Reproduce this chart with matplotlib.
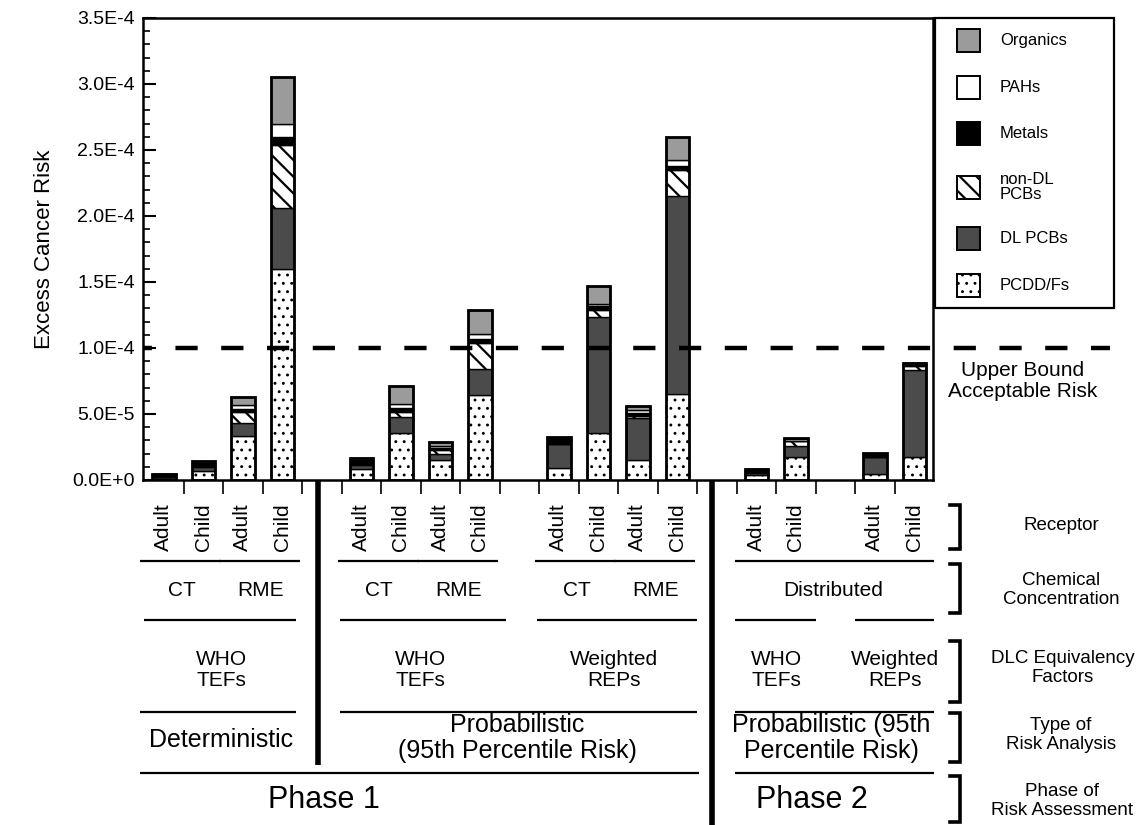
import numpy as np
import matplotlib
matplotlib.use('Agg')
import matplotlib.pyplot as plt
from matplotlib.patches import Rectangle
from matplotlib.lines import Line2D
import matplotlib.ticker as mticker

plt.rcParams['font.family'] = ['Liberation Sans', 'DejaVu Sans']
plt.rcParams['hatch.linewidth'] = 1.4
plt.rcParams['hatch.color'] = 'black'

# ---------------- data (units of 1E-5 excess cancer risk) ----------------
receptors = ['Adult', 'Child'] * 8
concentration = ['CT', 'RME', 'CT', 'RME', 'CT', 'RME']
unit = 1e-5
pcdd = [0.10, 0.70, 3.35, 16.0, 0.85, 3.54, 1.50, 6.45, 0.89, 3.54, 1.52, 6.52, 0.40, 1.77, 0.43, 1.77]
dl_pcb = [0.10, 0.25, 0.95, 4.60, 0.30, 1.26, 0.45, 1.97, 1.80, 8.79, 3.16, 15.0, 0.15, 0.81, 1.33, 6.57]
nondl_pcb = [0.02, 0.10, 0.85, 4.80, 0.10, 0.38, 0.30, 1.99, 0.05, 0.55, 0.18, 1.97, 0.05, 0.35, 0.02, 0.30]
metals = [0.20, 0.20, 0.25, 0.60, 0.20, 0.30, 0.20, 0.26, 0.35, 0.27, 0.25, 0.30, 0.20, 0.05, 0.20, 0.05]
pahs = [0.01, 0.05, 0.25, 0.95, 0.05, 0.25, 0.15, 0.38, 0.10, 0.18, 0.20, 0.45, 0.02, 0.13, 0.02, 0.15]
organics = [0.02, 0.15, 0.65, 3.55, 0.15, 1.40, 0.30, 1.84, 0.10, 1.39, 0.33, 1.77, 0.02, 0.05, 0.05, 0.05]
acceptable_risk = 1e-4
y_ticks = [0, 0.5e-4, 1.0e-4, 1.5e-4, 2.0e-4, 2.5e-4, 3.0e-4, 3.5e-4]

# ---------------- figure ----------------
W, H = 1143, 825
fig = plt.figure(figsize=(W / 100, H / 100), dpi=100)
ax = fig.add_axes([143 / W, 1 - 480 / H, 790 / W, 462 / H])

# bar slots: blocks of bars separated by one empty slot
block_sizes = [4, 4, 4, 2, 2]
x = []
pos = 0
for n in block_sizes:
    for _ in range(n):
        x.append(pos)
        pos += 1
    pos += 1
x = np.array(x, dtype=float)
bw = 0.6

series = [
    ('PCDD/Fs', pcdd, 'white', '..', 0.9),
    ('DL PCBs', dl_pcb, '#4b4b4b', None, 1.4),
    ('non-DL\nPCBs', nondl_pcb, 'white', '\\\\', 1.6),
    ('Metals', metals, 'black', None, 1.4),
    ('PAHs', pahs, 'white', None, 1.4),
    ('Organics', organics, '#9b9b9b', None, 1.4),
]
bottom = np.zeros(len(x))
for name, vals, col, hatch, hlw in series:
    v = np.array(vals) * unit
    with plt.rc_context({'hatch.linewidth': hlw}):
        ax.bar(x, v, width=bw, bottom=bottom, color=col, edgecolor='black',
               linewidth=1.0, hatch=hatch, zorder=2)
    bottom += v
ax.bar(x, bottom, width=bw, fill=False, edgecolor='black', linewidth=2.0, zorder=3)

ax.set_xlim(-0.53, 19.47)
ax.set_ylim(0, 3.5e-4)


def sci(v, pos=None):
    if v == 0:
        return '0.0E+0'
    e = int(np.floor(np.log10(abs(v)) + 1e-9))
    m = v / 10 ** e
    return f'{m:.1f}E{e:+d}'


ax.set_yticks(y_ticks)
ax.yaxis.set_major_formatter(mticker.FuncFormatter(sci))
ax.yaxis.set_minor_locator(mticker.MultipleLocator(1e-5))
ax.tick_params(axis='y', which='major', direction='in', length=9, width=1.5, labelsize=14, pad=6)
ax.tick_params(axis='y', which='minor', direction='in', length=5, width=1.2)
ax.set_xticks(np.arange(0.5, 19, 1.0))
ax.set_xticklabels([])
ax.tick_params(axis='x', which='major', direction='out', length=10, width=1.2)
for s in ax.spines.values():
    s.set_linewidth(1.8)
ax.set_ylabel('Excess Cancer Risk', fontsize=16, labelpad=12)

# acceptable risk line, extends beyond the axes
ax.plot([-0.53, 23.95], [acceptable_risk, acceptable_risk], color='black', lw=3.2,
        ls=(3.0, (5.0, 5.3)), clip_on=False, zorder=4)

# ---------------- table below axes ----------------
tr = ax.get_xaxis_transform()


def ty(py):
    return (480 - py) / 462.0


def hline(x0, x1, py, lw=1.6):
    ax.plot([x0, x1], [ty(py), ty(py)], color='black', lw=lw, transform=tr,
            clip_on=False, solid_capstyle='butt')


def txt(xs, py, s, size, **kw):
    ax.text(xs, ty(py), s, transform=tr, ha='center', va='center', fontsize=size,
            clip_on=False, linespacing=1.15, **kw)


for xi, r in zip(x, receptors):
    txt(xi, 527, r, 15, rotation=90)

# receptor row lines
for a in [0, 2, 5, 7, 10, 12]:
    hline(a - 0.6, a + 1.45, 561)
hline(14.45, 19.5, 561)

# concentration row
for (a, c) in zip([0, 2, 5, 7, 10, 12], concentration):
    txt(a + 0.45, 590, c, 15)
txt(16.95, 590, 'Distributed', 15)
hline(-0.5, 3.35, 620)
hline(4.45, 8.65, 620)
hline(9.45, 13.5, 620)
hline(14.45, 16.5, 620)
hline(17.5, 19.5, 620)

# equivalency factors row
txt(1.45, 670, 'WHO\nTEFs', 15)
txt(6.5, 670, 'WHO\nTEFs', 15)
txt(11.4, 670, 'Weighted\nREPs', 15)
txt(15.5, 670, 'WHO\nTEFs', 15)
txt(18.5, 670, 'Weighted\nREPs', 15)
hline(-0.6, 3.35, 712)
hline(4.45, 13.5, 712)
hline(14.45, 19.5, 712)

# type of analysis row
txt(1.45, 740, 'Deterministic', 18)
txt(8.95, 738, 'Probabilistic\n(95th Percentile Risk)', 18)
txt(16.9, 738, 'Probabilistic (95th\nPercentile Risk)', 18)
hline(-0.6, 13.55, 773)
hline(14.45, 19.5, 773)

# phase row
txt(4.05, 800, 'Phase 1', 22)
txt(16.4, 800, 'Phase 2', 22)

# thick dividers
ax.plot([3.9, 3.9], [ty(480), ty(765)], color='black', lw=4, transform=tr, clip_on=False,
        solid_capstyle='butt')
ax.plot([13.87, 13.87], [ty(480), ty(825)], color='black', lw=4, transform=tr, clip_on=False,
        solid_capstyle='butt')

# ---------------- right side annotations (figure pixel coords) ----------------
def fp(px, py):
    return px / W, 1 - py / H


def ftxt(px, py, s, size):
    fx, fy = fp(px, py)
    fig.text(fx, fy, s, ha='center', va='center', fontsize=size, linespacing=1.15)


def bracket(y0, y1, xl=950, xr=960, lw=2.6):
    xs = [xl, xr, xr, xl]
    ys = [y0, y0, y1, y1]
    fig.add_artist(Line2D([v / W for v in xs], [1 - v / H for v in ys], color='black',
                          lw=lw, transform=fig.transFigure, solid_joinstyle='miter'))


bracket(505, 549)
bracket(564, 613)
bracket(641, 702)
bracket(713, 762)
bracket(776, 822)
ftxt(1061, 525, 'Receptor', 13.5)
ftxt(1061, 590, 'Chemical\nConcentration', 13.5)
ftxt(1063, 668, 'DLC Equivalency\nFactors', 13.5)
ftxt(1061, 735, 'Type of\nRisk Analysis', 13.5)
ftxt(1062, 801, 'Phase of\nRisk Assessment', 13.5)
ftxt(1023, 381, 'Upper Bound\nAcceptable Risk', 15)

# ---------------- legend (manual box) ----------------
fig.add_artist(Rectangle(fp(935, 308), 179 / W, 290 / H, transform=fig.transFigure,
                         fill=False, edgecolor='black', lw=1.6))
leg_rows = [285, 238, 187, 133, 87, 40]  # bottom-to-top order matches series
for (name, vals, col, hatch, hlw), cy in zip(series, leg_rows):
    with plt.rc_context({'hatch.linewidth': hlw}):
        fig.add_artist(Rectangle(fp(957, cy + 11.5), 23 / W, 23 / H, transform=fig.transFigure,
                                 facecolor=col, edgecolor='black', lw=1.4, hatch=hatch))
    fx, fy = fp(1000, cy)
    fig.text(fx, fy, name, ha='left', va='center', fontsize=12, linespacing=1.0)

fig.savefig('out.png', dpi=100)
